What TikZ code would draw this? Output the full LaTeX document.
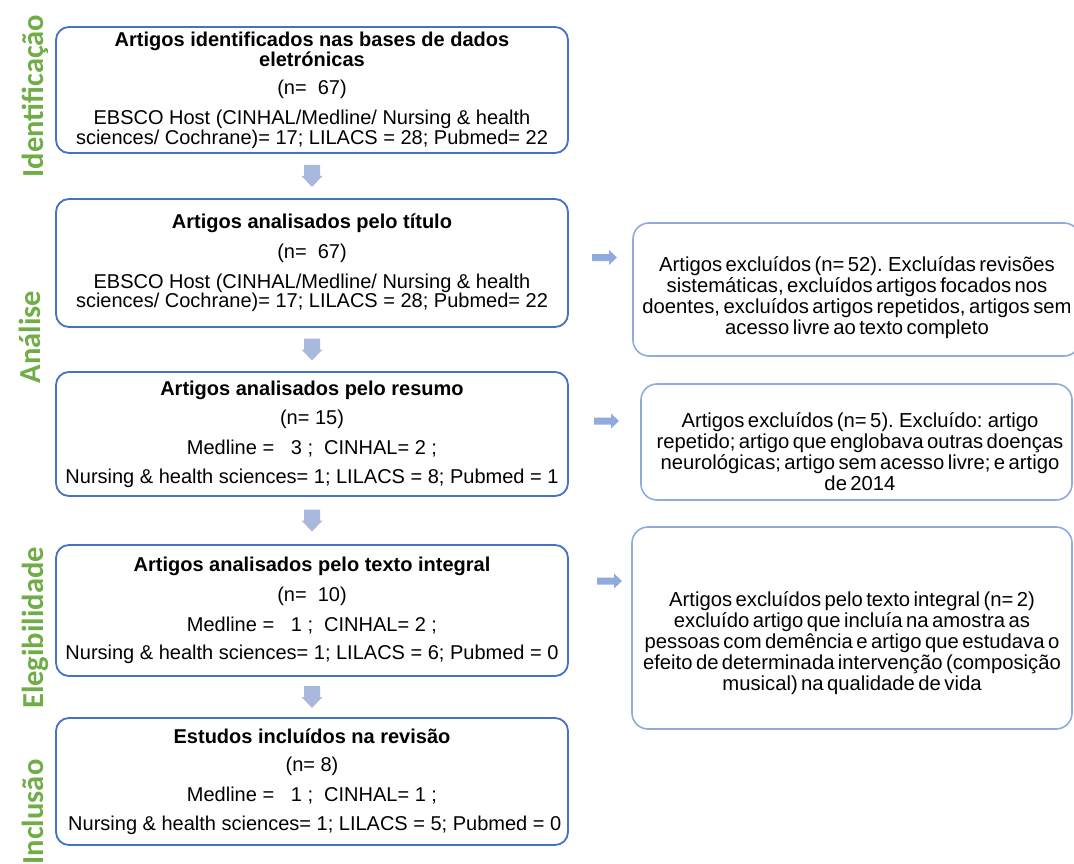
\documentclass[tikz,border=0pt]{standalone}
\usepackage{fontspec}
\setmainfont{Liberation Sans}
\newfontfamily\phasefont{Carlito}
\usetikzlibrary{calc}
\definecolor{boxblue}{HTML}{4472C4}
\definecolor{lightblue}{HTML}{8FAADC}
\definecolor{arrowblue}{HTML}{A9B8DD}
\definecolor{phasegreen}{HTML}{70AD47}
\newcommand\mysidefont{\fontsize{20.25}{21}\selectfont\spaceskip=0.17em plus 0.05em minus 0.02em\relax}
\newcommand\mymainfont{\fontsize{20}{18.5}\selectfont}
\begin{document}
\begin{tikzpicture}[x=1pt,y=-1pt,
  mainbox/.style={draw=boxblue, line width=1.8pt, rounded corners=13pt,
    minimum width=512pt, inner sep=0pt, align=center, font=\mymainfont},
  sidebox/.style={draw=lightblue, line width=1.6pt, rounded corners=16pt, inner sep=0pt},
  sidetext/.style={align=center, inner sep=0pt, font=\mysidefont},
  phase/.style={rotate=90, anchor=base, text=phasegreen, inner sep=0pt,
    font=\phasefont\bfseries\fontsize{30.5}{32}\selectfont},
  downarr/.pic={\fill[arrowblue] (-8,-11) -- (8,-11) -- (8,0) -- (10.5,0)
      -- (0,11) -- (-10.5,0) -- (-8,0) -- cycle;},
  rightarr/.pic={\fill[lightblue] (-12.5,-3.5) -- (4.5,-3.5) -- (4.5,-7.5)
      -- (12.5,0) -- (4.5,7.5) -- (4.5,3.5) -- (-12.5,3.5) -- cycle;},
]
\useasboundingbox (0,0) rectangle (1074,864);
\fill[white] (0,0) rectangle (1074,864);

% phase labels
\node[phase] (p1) at (43,96) {Identificação};
\node[phase] (p2) at (40,337) {Análise};
\node[phase] (p3) at (43,628) {Elegibilidade};
\node[phase] (p4) at (43,812) {Inclusão};

% main boxes
\node[mainbox, minimum height=126pt] (b1) at (312,90)
  {\textbf{Artigos identificados nas bases de dados}\\ \textbf{eletrónicas}\\[10pt]
   (n=\ \ 67)\\[10pt]
   EBSCO Host (CINHAL/Medline/ Nursing \& health\\
   sciences/ Cochrane)= 17; LILACS = 28; Pubmed= 22};
\node[mainbox, minimum height=128pt] (b2) at (312,263)
  {\textbf{Artigos analisados pelo título}\\[10pt]
   (n=\ \ 67)\\[10pt]
   EBSCO Host (CINHAL/Medline/ Nursing \& health\\
   sciences/ Cochrane)= 17; LILACS = 28; Pubmed= 22};
\node[mainbox, minimum height=124pt] (b3) at (312,434)
  {\textbf{Artigos analisados pelo resumo}\\[10pt]
   (n= 15)\\[10pt]
   Medline =\ \ \ 3 ;\ \ CINHAL= 2 ;\\[10pt]
   Nursing \& health sciences= 1; LILACS = 8; Pubmed = 1};
\node[mainbox, minimum height=131pt] (b4) at (312,610.5)
  {\textbf{Artigos analisados pelo texto integral}\\[10pt]
   (n=\ \ 10)\\[10pt]
   Medline =\ \ \ 1 ;\ \ CINHAL= 2 ;\\[10pt]
   Nursing \& health sciences= 1; LILACS = 6; Pubmed = 0};
\node[mainbox, minimum height=127pt] (b5) at (312,781.5)
  {\textbf{Estudos incluídos na revisão}\\[10pt]
   (n= 8)\\[10pt]
   Medline =\ \ \ 1 ;\ \ CINHAL= 1 ;\\[10pt]
   \ Nursing \& health sciences= 1; LILACS = 5; Pubmed = 0};

% down arrows between main boxes
\coordinate (d1) at ($(b1.south)!0.5!(b2.north)$);
\coordinate (d2) at ($(b2.south)!0.5!(b3.north)$);
\coordinate (d3) at ($(b3.south)!0.5!(b4.north)$);
\coordinate (d4) at ($(b4.south)!0.5!(b5.north)$);
\pic at (d1) {downarr};
\pic at (d2) {downarr};
\pic at (d3) {downarr};
\pic at (d4) {downarr};

% side boxes
\node[sidebox, minimum width=447pt, minimum height=133pt] (rA) at (856.5,289.5) {};
\node[sidebox, minimum width=431pt, minimum height=116pt] (rB) at (856.5,442) {};
\node[sidebox, minimum width=440pt, minimum height=202pt] (rC) at (852,628) {};

\node[sidetext] (tA) at (857,298)
  {Artigos excluídos (n= 52). Excluídas revisões\\
   sistemáticas, excluídos artigos focados nos\\
   doentes, excluídos artigos repetidos, artigos sem\\
   acesso livre ao texto completo};
\node[sidetext] (tB) at (860,452)
  {Artigos excluídos (n= 5). Excluído: artigo\\
   repetido; artigo que englobava outras doenças\\
   neurológicas; artigo sem acesso livre; e artigo\\
   de 2014};
\node[sidetext] (tC) at (852,643)
  {Artigos excluídos pelo texto integral (n= 2)\\
   excluído artigo que incluía na amostra as\\
   pessoas com demência e artigo que estudava o\\
   efeito de determinada intervenção (composição\\
   musical) na qualidade de vida};

% right arrows
\coordinate (a1) at (604.5,257.5);
\coordinate (a2) at (606.5,421);
\coordinate (a3) at (609.5,581);
\pic at (a1) {rightarr};
\pic at (a2) {rightarr};
\pic at (a3) {rightarr};
\end{tikzpicture}
\end{document}
